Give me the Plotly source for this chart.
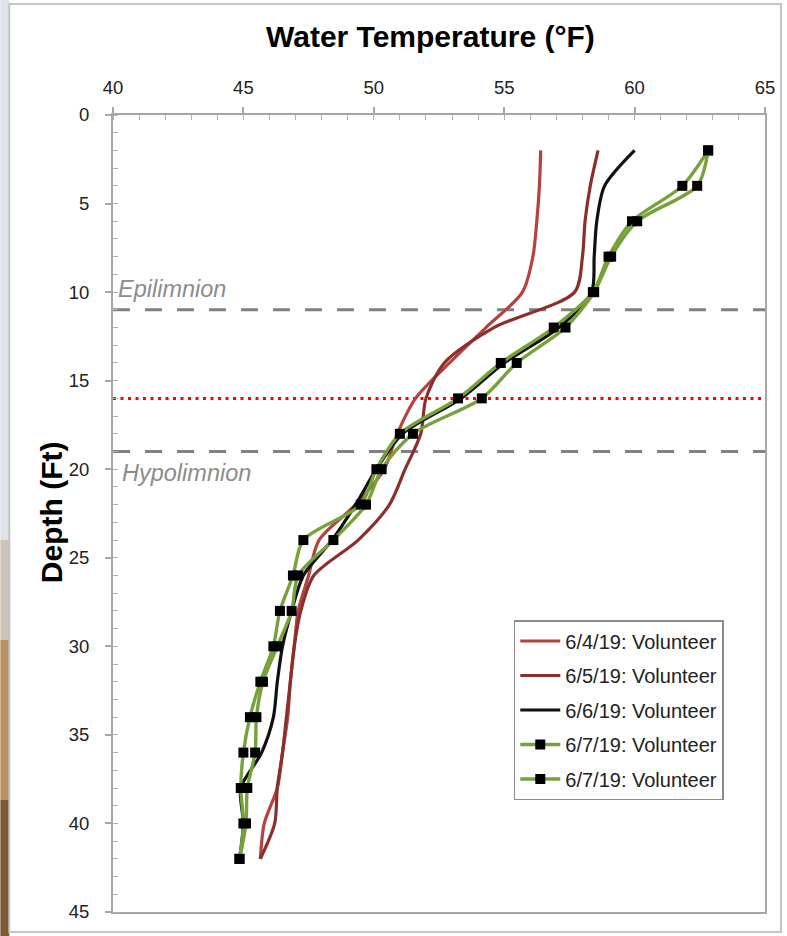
import plotly.graph_objects as go

# ---------------- data ----------------
depth = [2, 4, 6, 8, 10, 12, 14, 16, 18, 20, 22, 24, 26, 28, 30, 32, 34, 36, 38, 40, 42]

temp_0604 = [56.4, 56.35, 56.25, 56.1, 55.7, 54.3, 52.9, 51.6, 50.9, 50.4, 49.3, 47.9, 47.5, 47.1,
             46.95, 46.8, 46.7, 46.5, 46.3, 45.8, 45.65]
temp_0605 = [58.6, 58.3, 58.1, 58.0, 57.7, 54.6, 52.7, 52.0, 51.8, 51.2, 50.6, 49.4, 47.7, 47.2,
             46.95, 46.8, 46.65, 46.5, 46.3, 46.2, 45.65]
temp_0606 = [60.0, 58.85, 58.55, 58.45, 58.35, 57.1, 55.0, 53.35, 51.1, 50.1, 49.3, 48.4, 47.3, 46.85,
             46.5, 46.3, 46.15, 45.7, 44.9, 45.0, 44.85]
temp_0607a = [62.82, 61.83, 59.9, 59.0, 58.4, 56.9, 54.87, 53.23, 51.0, 50.1, 49.5, 47.3, 46.9, 46.4,
              46.15, 45.65, 45.25, 45.0, 44.9, 45.0, 44.85]
temp_0607b = [62.82, 62.40, 60.1, 59.1, 58.45, 57.35, 55.48, 54.14, 51.5, 50.3, 49.7, 48.45, 47.1, 46.85,
              46.3, 45.75, 45.5, 45.45, 45.15, 45.1, 44.85]

series_names = ["6/4/19: Volunteer", "6/5/19: Volunteer", "6/6/19: Volunteer",
                "6/7/19: Volunteer", "6/7/19: Volunteer"]

x_ticks = [40, 45, 50, 55, 60, 65]
y_ticks = [0, 5, 10, 15, 20, 25, 30, 35, 40, 45]

epi_depth = 11
thermo_depth = 16
hypo_depth = 19
epi_label_depth = 9.8
hypo_label_depth = 20.2

# ---------------- layout helpers ----------------
W, H = 787, 936
L, R, T, B = 113, 767, 115, 912


def px2x(px):
    return (px - L) / (R - L)


def px2y(py):
    return (B - py) / (B - T)


FONT = "Liberation Sans, Arial, sans-serif"

fig = go.Figure()

# reference lines
for d, col, dash, w in [(epi_depth, "#808080", "17px,15px", 3),
                        (hypo_depth, "#808080", "17px,15px", 3),
                        (thermo_depth, "#ff0000", "3px,4.5px", 3)]:
    fig.add_trace(go.Scatter(x=[x_ticks[0], x_ticks[-1]], y=[d, d], mode="lines",
                             line=dict(color=col, width=w, dash=dash),
                             showlegend=False, hoverinfo="skip"))

styles = [
    dict(color="#b5423e", marker=False),
    dict(color="#8b2f2d", marker=False),
    dict(color="#111111", marker=False),
    dict(color="#77a23b", marker=True),
    dict(color="#77a23b", marker=True),
]
temps = [temp_0604, temp_0605, temp_0606, temp_0607a, temp_0607b]

for i, (name, t, st) in enumerate(zip(series_names, temps, styles)):
    fig.add_trace(go.Scatter(
        x=t, y=depth, name=name, legendgroup=f"g{i}",
        mode="lines+markers" if st["marker"] else "lines",
        line=dict(color=st["color"], width=3.4 if st["marker"] else 3.2,
                  shape="spline", smoothing=0.8),
        marker=dict(symbol="square", size=10, color="black",
                    line=dict(width=0)) if st["marker"] else None,
    ))

# frame / left strip decoration
shapes = []
strip = [(0, 540, "#dfe3e8"), (540, 640, "#cfc4b6"), (640, 800, "#b8915f"), (800, 936, "#7d5b36")]
for y0, y1, c in strip:
    shapes.append(dict(type="rect", xref="paper", yref="paper",
                       x0=px2x(0), x1=px2x(9), y0=px2y(y1), y1=px2y(y0),
                       fillcolor=c, line=dict(width=0), layer="below"))
shapes.append(dict(type="rect", xref="paper", yref="paper",
                   x0=px2x(9), x1=px2x(783), y0=px2y(932), y1=px2y(4),
                   fillcolor="rgba(0,0,0,0)", line=dict(color="#c4c4c4", width=2), layer="below"))

annotations = [
    dict(text="<b>Water Temperature (°F)</b>", xref="paper", yref="paper",
         x=px2x(431), y=px2y(36), xanchor="center", yanchor="middle", showarrow=False,
         font=dict(size=30, family=FONT, color="black")),
    dict(text="<b>Depth (Ft)</b>", xref="paper", yref="paper", textangle=-90,
         x=px2x(52), y=px2y(512), xanchor="center", yanchor="middle", showarrow=False,
         font=dict(size=30, family=FONT, color="black")),
    dict(text="<i>Epilimnion</i>", xref="paper", yref="y",
         x=px2x(116), y=epi_label_depth, xanchor="left", yanchor="middle", showarrow=False,
         font=dict(size=23.5, family=FONT, color="#8c8c8c")),
    dict(text="<i>Hypolimnion</i>", xref="paper", yref="y",
         x=px2x(120), y=hypo_label_depth, xanchor="left", yanchor="middle", showarrow=False,
         font=dict(size=23.5, family=FONT, color="#8c8c8c")),
]

axis_common = dict(showline=True, linecolor="#a6a6a6", linewidth=2, mirror=True,
                   showgrid=False, zeroline=False, ticks="outside", ticklen=6,
                   tickcolor="#a6a6a6", tickwidth=1.5,
                   tickfont=dict(size=18.5, family=FONT, color="#222"),
                   minor=dict(dtick=1, ticks="inside", ticklen=5, tickcolor="#b0b0b0",
                              tickwidth=1, showgrid=False))

fig.update_layout(
    width=W, height=H,
    margin=dict(l=L, r=W - R, t=T, b=H - B),
    paper_bgcolor="white", plot_bgcolor="white",
    xaxis=dict(range=[x_ticks[0], x_ticks[-1]], side="top", tickvals=x_ticks,
               ticklabelstandoff=6, **axis_common),
    yaxis=dict(range=[y_ticks[-1], y_ticks[0]], tickvals=y_ticks,
               ticklabelstandoff=12, **axis_common),
    legend=dict(x=px2x(515), y=px2y(620), xanchor="left", yanchor="top",
                bgcolor="white", bordercolor="#8c8c8c", borderwidth=1.5,
                font=dict(size=20, family=FONT, color="#222"),
                traceorder="grouped", tracegroupgap=5.5, itemwidth=40),
    shapes=shapes,
    annotations=annotations,
    showlegend=True,
)

fig.write_html("out.html", config={"displayModeBar": False},
               post_script="document.body.style.margin='0';")
